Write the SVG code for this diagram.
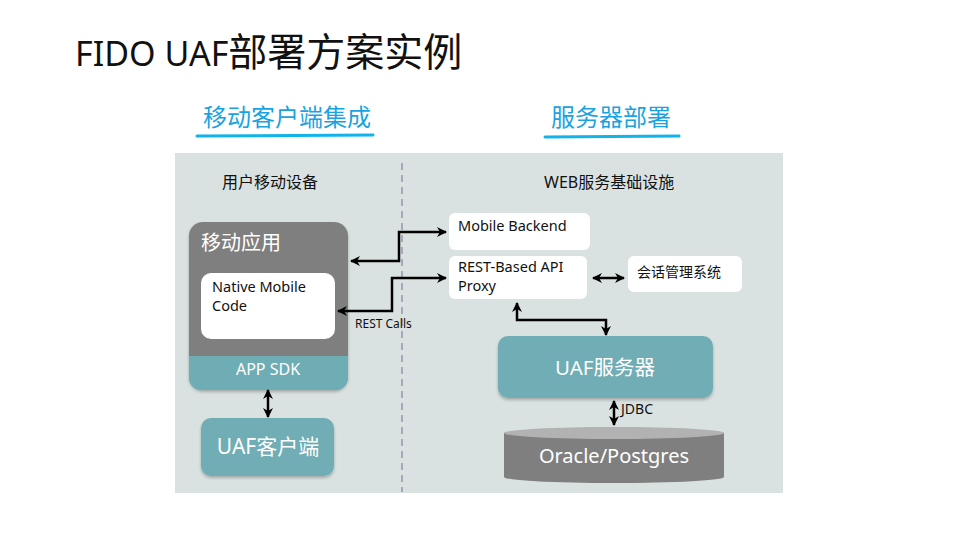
<svg xmlns="http://www.w3.org/2000/svg" width="960" height="540" viewBox="0 0 960 540">
<defs>
<style>
text{font-family:"Noto Sans","Noto Sans CJK SC",sans-serif;}
.hdr{fill:#1aa3e0;font-size:24px;}
.sub{fill:#111;font-size:16px;}
.wt{fill:#fff;}
.bk{fill:#111;}
.teal{fill:#6fadb5;}
.wbox{fill:#fff;}
.conn{fill:none;stroke:#000;stroke-width:2.5;}
</style>
<marker id="ah" viewBox="0 0 10 10" refX="9" refY="5" markerWidth="4" markerHeight="4" orient="auto-start-reverse">
<path d="M0,0 L10,5 L0,10 L3,5 Z" fill="#000"/>
</marker>
<filter id="sh" x="-10%" y="-10%" width="120%" height="130%">
<feDropShadow dx="0" dy="2" stdDeviation="1.5" flood-color="#000" flood-opacity="0.25"/>
</filter>
</defs>
<rect width="960" height="540" fill="#fff"/>
<text x="75" y="66" font-size="34" fill="#111">FIDO UAF<tspan font-size="39">部署方案实例</tspan></text>

<g id="hdr-left">
<text class="hdr" x="203" y="126">移动客户端集成</text>
<path d="M197,136 L373,135" stroke="#10b4ea" stroke-width="3" stroke-linecap="round"/>
</g>
<g id="hdr-right">
<text class="hdr" x="551" y="126">服务器部署</text>
<path d="M545,137 L679,136" stroke="#10b4ea" stroke-width="3" stroke-linecap="round"/>
</g>

<rect id="panel" x="175" y="153" width="608" height="340" fill="#d9e2e1"/>
<line x1="402" y1="163" x2="402" y2="492" stroke="#a8a6bc" stroke-width="2" stroke-dasharray="7,5"/>
<text class="sub" x="222" y="188">用户移动设备</text>
<text class="sub" x="544" y="188">WEB服务基础设施</text>

<g id="mobile-app">
<rect x="189" y="222" width="159" height="168" rx="14" fill="#7f7f7f" filter="url(#sh)"/>
<path d="M189,356 H348 V378 a12,12 0 0 1 -12,12 H201 a12,12 0 0 1 -12,-12 Z" class="teal"/>
<text class="wt" x="201" y="250" font-size="20">移动应用</text>
<text class="wt" x="268" y="375" font-size="16" text-anchor="middle">APP SDK</text>
</g>
<g id="native-code">
<rect class="wbox" x="201" y="273" width="134" height="66" rx="10"/>
<text class="bk" x="212" y="292" font-size="14.5">Native Mobile</text>
<text class="bk" x="212" y="311" font-size="14.5">Code</text>
</g>
<g id="uaf-client">
<rect class="teal" x="201" y="418" width="133" height="58" rx="10" filter="url(#sh)"/>
<text class="wt" x="268" y="454" font-size="21" text-anchor="middle">UAF客户端</text>
</g>
<g id="mobile-backend">
<rect class="wbox" x="449" y="213" width="141" height="37" rx="6"/>
<text class="bk" x="458" y="231" font-size="14.5">Mobile Backend</text>
</g>
<g id="rest-proxy">
<rect class="wbox" x="449" y="256" width="138" height="43" rx="6"/>
<text class="bk" x="458" y="272" font-size="14.5">REST-Based API</text>
<text class="bk" x="458" y="291" font-size="14.5">Proxy</text>
</g>
<g id="session">
<rect class="wbox" x="628" y="256" width="114" height="36" rx="6"/>
<text class="bk" x="637" y="277" font-size="14">会话管理系统</text>
</g>
<g id="uaf-server">
<rect class="teal" x="498" y="336" width="215" height="62" rx="10" filter="url(#sh)"/>
<text class="wt" x="605" y="375" font-size="20.5" text-anchor="middle">UAF服务器</text>
</g>
<g id="database">
<path d="M504,433 V477 A110,6 0 0 0 724,477 V433 Z" fill="#7f7f7f"/>
<ellipse cx="614" cy="433" rx="110" ry="6" fill="#b2b2b2"/>
<text class="wt" x="614" y="463" font-size="20" text-anchor="middle">Oracle/Postgres</text>
</g>

<g id="connectors">
<path class="conn" d="M446,232 H399 V261 H351" marker-start="url(#ah)" marker-end="url(#ah)"/>
<path class="conn" d="M446,278 H392 V311 H338" marker-start="url(#ah)" marker-end="url(#ah)"/>
<path class="conn" d="M593,278 H624" marker-start="url(#ah)" marker-end="url(#ah)"/>
<path class="conn" d="M517,303 V320 H606 V335" marker-start="url(#ah)" marker-end="url(#ah)"/>
<path class="conn" d="M268,390 V417" marker-start="url(#ah)" marker-end="url(#ah)"/>
<path class="conn" d="M614,401 V425" marker-start="url(#ah)" marker-end="url(#ah)"/>
<text class="bk" x="355" y="328" font-size="12">REST Calls</text>
<text class="bk" x="621" y="414" font-size="14">JDBC</text>
</g>
</svg>
